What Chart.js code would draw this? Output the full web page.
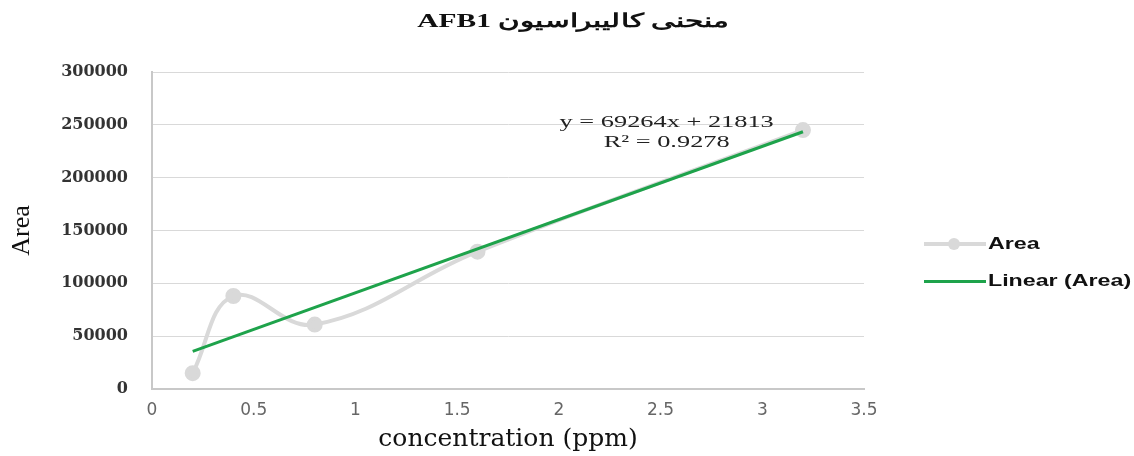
<!DOCTYPE html>
<html>
<head>
<meta charset="utf-8">
<script src="https://cdn.jsdelivr.net/npm/chart.js@4"></script>
<style>
  html, body { margin:0; padding:0; background:#fff; }
  #wrap { position:relative; width:1134px; height:456px; }
  .lg-item { position:absolute; display:flex; align-items:center; font-family:"Liberation Sans",Arial,sans-serif; font-weight:bold; font-size:16px; color:#111; }
  .lg-item span { display:inline-block; transform:scaleX(1.45); transform-origin:left center; }
  .lg-line { width:62px; height:4px; position:relative; margin-right:2px; }
  .lg-dot { position:absolute; left:24px; top:-4px; width:12px; height:12px; border-radius:50%; background:#d9d9d9; }
</style>
</head>
<body>
<div id="wrap">
  <canvas id="calib" width="1134" height="456"></canvas>
  <div class="lg-item" style="left:924px; top:235px;">
    <div class="lg-line" style="background:#d9d9d9"><div class="lg-dot"></div></div><span>Area</span>
  </div>
  <div class="lg-item" style="left:924px; top:272px;">
    <div class="lg-line" style="background:#1ea34b; height:3px"></div><span>Linear (Area)</span>
  </div>
</div>
<script>
// calibration points (ppm / peak area)
const concPpm  = [0.2, 0.4, 0.8, 1.6, 3.2];
const areaVals = [15000, 88000, 61000, 130000, 245000];
// trendline ends, from y = 69264x + 21813
const trendX = [0.2, 3.2];
const trendY = [35666, 243458];
const eqLines = ['y = 69264x + 21813', 'R² = 0.9278'];
const chartTitle = 'منحنی کالیبراسیون AFB1';

const serif = '"Liberation Serif","Times New Roman",serif';

// title + equation are drawn by hand so they can be stretched like the source image
const textLayer = {
  id: 'textLayer',
  afterDraw(chart) {
    const { ctx, scales: { x, y } } = chart;
    ctx.save();
    ctx.fillStyle = '#111';
    ctx.textAlign = 'center';
    ctx.textBaseline = 'middle';
    ctx.direction = 'rtl';
    ctx.font = 'bold 19px ' + serif;
    ctx.translate(573, 22);
    ctx.scale(1.55, 1);
    ctx.fillText(chartTitle, 0, 0);
    ctx.restore();

    const cx = x.getPixelForValue(2.53);
    const cy = y.getPixelForValue(252000);
    ctx.save();
    ctx.font = '17px ' + serif;
    ctx.fillStyle = '#222';
    ctx.textAlign = 'center';
    ctx.textBaseline = 'middle';
    ctx.translate(cx, cy);
    ctx.scale(1.55, 1);
    ctx.fillText(eqLines[0], 0, 0);
    ctx.fillText(eqLines[1], 0, 20);
    ctx.restore();
  }
};

new Chart(document.getElementById('calib').getContext('2d'), {
  type: 'scatter',
  data: {
    datasets: [
      {
        label: 'Linear (Area)',
        data: trendX.map((v, i) => ({ x: v, y: trendY[i] })),
        showLine: true,
        borderColor: '#1ea34b',
        borderWidth: 3,
        pointRadius: 0,
        order: 1
      },
      {
        label: 'Area',
        data: concPpm.map((v, i) => ({ x: v, y: areaVals[i] })),
        showLine: true,
        tension: 0.4,
        borderColor: '#d9d9d9',
        borderWidth: 4,
        pointRadius: 6,
        pointBackgroundColor: '#d9d9d9',
        pointBorderColor: '#d9d9d9',
        order: 2
      }
    ]
  },
  options: {
    responsive: false,
    animation: false,
    layout: { padding: { left: 0, right: 270, top: 72, bottom: 0 } },
    plugins: {
      legend: { display: false },
      tooltip: { enabled: false },
      title: { display: false }
    },
    scales: {
      x: {
        type: 'linear', min: 0, max: 3.5,
        ticks: { stepSize: 0.5, color: '#666', font: { family: '"DejaVu Sans",sans-serif', size: 17 }, padding: 11, callback: v => String(v) },
        grid: { display: false, drawTicks: false },
        border: { color: '#c8c8c8', width: 2 },
        title: { display: true, text: 'concentration (ppm)', font: { family: '"DejaVu Serif",serif', size: 25 }, color: '#111', padding: { top: 0, bottom: 2 } },
        afterFit: s => { s.height = 67; }
      },
      y: {
        min: 0, max: 300000,
        ticks: { stepSize: 50000, color: '#333', font: { family: '"DejaVu Serif",serif', size: 16, weight: 'bold' }, padding: 24, callback: v => String(v) },
        grid: { color: '#d9d9d9', drawTicks: false },
        border: { color: '#c8c8c8', width: 2 },
        title: { display: true, text: 'Area', font: { family: serif, size: 26 }, color: '#111', padding: { top: 7, bottom: 0 } },
        afterFit: s => { s.width = 152; }
      }
    }
  },
  plugins: [textLayer]
});
</script>
</body>
</html>
